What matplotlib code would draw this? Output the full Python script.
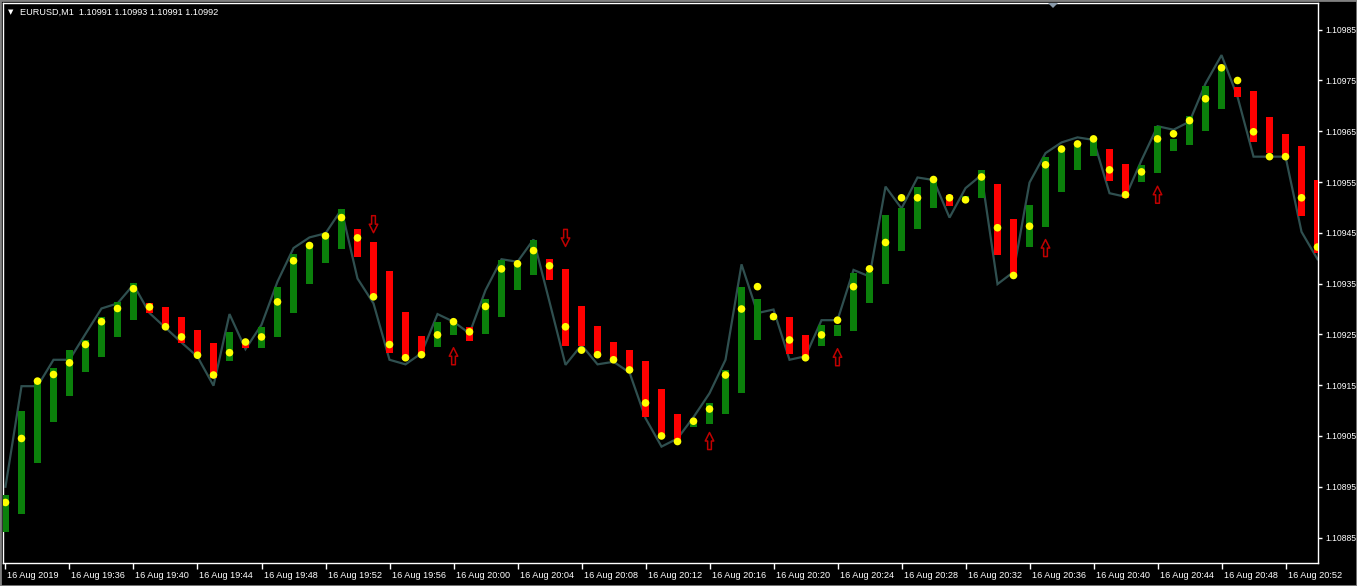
import matplotlib
matplotlib.use('Agg')
import matplotlib.pyplot as plt
import numpy as np
from matplotlib.path import Path
import matplotlib.transforms as mtransforms

plt.rcParams['font.family'] = ['Liberation Sans', 'DejaVu Sans']

# ---------------- data ----------------
symbol_header = "EURUSD,M1  1.10991 1.10993 1.10991 1.10992"

ha_open = [1.108860, 1.108896, 1.108997, 1.109078, 1.109129, 1.109175, 1.109206, 1.109244, 1.109279, 1.109311,
           1.109304, 1.109285, 1.109259, 1.109234, 1.109198, 1.109239, 1.109224, 1.109244, 1.109293, 1.109349,
           1.109390, 1.109419, 1.109458, 1.109431, 1.109375, 1.109294, 1.109247, 1.109226, 1.109249, 1.109265,
           1.109251, 1.109285, 1.109337, 1.109366, 1.109398, 1.109379, 1.109305, 1.109267, 1.109235, 1.109219,
           1.109198, 1.109142, 1.109093, 1.109068, 1.109074, 1.109093, 1.109134, 1.109239, 1.109279, 1.109284,
           1.109249, 1.109228, 1.109247, 1.109257, 1.109312, 1.109349, 1.109415, 1.109457, 1.109498, 1.109525,
           1.109511, 1.109518, 1.109546, 1.109477, 1.109423, 1.109462, 1.109531, 1.109574, 1.109602, 1.109615,
           1.109586, 1.109551, 1.109567, 1.109612, 1.109623, 1.109651, 1.109694, 1.109738, 1.109729, 1.109679,
           1.109645, 1.109621, 1.109554]
ha_close = [1.108934, 1.109099, 1.109158, 1.109183, 1.109219, 1.109238, 1.109284, 1.109313, 1.109351, 1.109293,
            1.109265, 1.109234, 1.109206, 1.109164, 1.109255, 1.109223, 1.109265, 1.109344, 1.109408, 1.109429,
            1.109449, 1.109496, 1.109403, 1.109324, 1.109213, 1.109200, 1.109209, 1.109274, 1.109270, 1.109237,
            1.109320, 1.109397, 1.109393, 1.109436, 1.109357, 1.109228, 1.109228, 1.109206, 1.109200, 1.109175,
            1.109088, 1.109045, 1.109036, 1.109080, 1.109114, 1.109180, 1.109343, 1.109320, 1.109284, 1.109211,
            1.109204, 1.109269, 1.109269, 1.109371, 1.109373, 1.109485, 1.109498, 1.109541, 1.109554, 1.109503,
            1.109522, 1.109574, 1.109407, 1.109366, 1.109505, 1.109599, 1.109615, 1.109626, 1.109639, 1.109552,
            1.109518, 1.109584, 1.109660, 1.109635, 1.109680, 1.109739, 1.109775, 1.109718, 1.109628, 1.109607,
            1.109600, 1.109484, 1.109410]
dot_values = [1.108919, 1.109045, 1.109158, 1.109171, 1.109194, 1.109230, 1.109275, 1.109301, 1.109340, 1.109304,
              1.109265, 1.109245, 1.109209, 1.109170, 1.109214, 1.109235, 1.109245, 1.109314, 1.109395, 1.109425,
              1.109444, 1.109480, 1.109440, 1.109324, 1.109230, 1.109204, 1.109210, 1.109249, 1.109275, 1.109255,
              1.109305, 1.109379, 1.109389, 1.109415, 1.109385, 1.109265, 1.109219, 1.109210, 1.109200, 1.109180,
              1.109115, 1.109050, 1.109039, 1.109079, 1.109103, 1.109170, 1.109300, 1.109344, 1.109285, 1.109239,
              1.109204, 1.109249, 1.109278, 1.109344, 1.109379, 1.109431, 1.109519, 1.109519, 1.109555, 1.109519,
              1.109515, 1.109560, 1.109460, 1.109366, 1.109463, 1.109584, 1.109615, 1.109625, 1.109635, 1.109574,
              1.109525, 1.109570, 1.109635, 1.109645, 1.109671, 1.109714, 1.109775, 1.109750, 1.109649, 1.109600,
              1.109600, 1.109519, 1.109422]
close_line = [1.108950, 1.109148, 1.109148, 1.109200, 1.109200, 1.109251, 1.109301, 1.109311, 1.109348, 1.109292,
              1.109263, 1.109234, 1.109206, 1.109149, 1.109290, 1.109221, 1.109269, 1.109354, 1.109420, 1.109441,
              1.109449, 1.109496, 1.109360, 1.109311, 1.109200, 1.109191, 1.109213, 1.109290, 1.109275, 1.109252,
              1.109337, 1.109398, 1.109393, 1.109437, 1.109314, 1.109190, 1.109229, 1.109191, 1.109196, 1.109175,
              1.109085, 1.109029, 1.109045, 1.109087, 1.109134, 1.109200, 1.109388, 1.109292, 1.109299, 1.109200,
              1.109207, 1.109278, 1.109278, 1.109377, 1.109364, 1.109541, 1.109498, 1.109559, 1.109554, 1.109480,
              1.109538, 1.109564, 1.109349, 1.109373, 1.109549, 1.109607, 1.109628, 1.109638, 1.109633, 1.109528,
              1.109521, 1.109593, 1.109660, 1.109653, 1.109669, 1.109744, 1.109800, 1.109718, 1.109600, 1.109600,
              1.109600, 1.109452, 1.109398]

down_arrow_bars = [23, 35]
down_arrow_prices = [1.109467, 1.109440]
up_arrow_bars = [28, 44, 52, 65, 72]
up_arrow_prices = [1.109207, 1.109040, 1.109205, 1.109420, 1.109525]

time_tick_bars = list(range(0, 81, 4))
time_tick_labels = ["16 Aug 2019", "16 Aug 19:36", "16 Aug 19:40", "16 Aug 19:44", "16 Aug 19:48",
                    "16 Aug 19:52", "16 Aug 19:56", "16 Aug 20:00", "16 Aug 20:04", "16 Aug 20:08",
                    "16 Aug 20:12", "16 Aug 20:16", "16 Aug 20:20", "16 Aug 20:24", "16 Aug 20:28",
                    "16 Aug 20:32", "16 Aug 20:36", "16 Aug 20:40", "16 Aug 20:44", "16 Aug 20:48",
                    "16 Aug 20:52"]
price_ticks = [1.10885, 1.10895, 1.10905, 1.10915, 1.10925, 1.10935, 1.10945, 1.10955, 1.10965, 1.10975, 1.10985]

# ---------------- figure ----------------
W, H = 1357, 586
fig = plt.figure(figsize=(W / 100, H / 100), dpi=100, facecolor='black')
ax = fig.add_axes([3 / W, (H - 563) / H, 1315 / W, 560 / H])
ax.set_facecolor('black')

x = np.arange(len(ha_open))
o = np.array(ha_open)
c = np.array(ha_close)
colors = np.where(c >= o, '#0B800B', '#FF0000')

# main chart line (close)
ax.plot(x, close_line, color='#2F4F4F', lw=1.6, zorder=2, solid_joinstyle='miter')
# Heiken Ashi bodies
ax.bar(x, c - o, bottom=o, width=0.42, color=colors, linewidth=0, zorder=3)
# yellow dots
ax.scatter(x, dot_values, s=30, color='#FFFF00', edgecolors='none', zorder=4)

# arrows (hollow block arrows)
up_verts = [(-0.22, -1.0), (0.22, -1.0), (0.22, 0.0), (0.5, 0.0), (0.0, 1.0),
            (-0.5, 0.0), (-0.22, 0.0), (-0.22, -1.0)]
up_path = Path(up_verts, [Path.MOVETO] + [Path.LINETO] * 6 + [Path.CLOSEPOLY])
down_path = Path([(vx, -vy) for vx, vy in up_verts], [Path.MOVETO] + [Path.LINETO] * 6 + [Path.CLOSEPOLY])
ax.scatter(up_arrow_bars, up_arrow_prices, marker=up_path, s=150, facecolors='none',
           edgecolors='#C00000', linewidths=1.1, zorder=5)
ax.scatter(down_arrow_bars, down_arrow_prices, marker=down_path, s=150, facecolors='none',
           edgecolors='#C00000', linewidths=1.1, zorder=5)

# limits
ax.set_xlim(-0.156, 82.03)
ax.set_ylim(1.1087998, 1.1099026)

# spines
for sp in ax.spines.values():
    sp.set_color('white')
    sp.set_linewidth(1.0)

# y axis on right
ax.yaxis.tick_right()
ax.set_yticks(price_ticks)
ax.set_yticklabels([f"{p:.5f}" for p in price_ticks])
ax.tick_params(axis='y', which='both', direction='out', length=3, width=1, color='white',
               labelcolor='white', labelsize=6.2, pad=2.5, left=False, right=True)

# x axis
ax.set_xticks(time_tick_bars)
ax.set_xticklabels(time_tick_labels)
ax.tick_params(axis='x', direction='out', length=4, width=1, color='white',
               labelcolor='white', labelsize=6.6, pad=2)
offset = mtransforms.ScaledTranslation(2 / 100, 0, fig.dpi_scale_trans)
for lab in ax.get_xticklabels():
    lab.set_horizontalalignment('left')
    lab.set_transform(lab.get_transform() + offset)

# header text
fig.text(8 / W, 1 - 12 / H, "\u25BC", color='white', fontsize=5, va='center', ha='left',
         family=['DejaVu Sans'])
fig.text(20 / W, 1 - 12 / H, symbol_header, color='white', fontsize=6.6, va='center', ha='left')

# chart shift marker at top
fig.patches.append(plt.Polygon([[1048 / W, 1 - 3 / H], [1058 / W, 1 - 3 / H], [1053 / W, 1 - 8 / H]],
                               closed=True, transform=fig.transFigure, facecolor='#8A9AAA',
                               edgecolor='none'))

# window frame
fig.patches.append(plt.Rectangle((0, 0), 1, 1, transform=fig.transFigure, fill=False,
                                 edgecolor='#808080', linewidth=2))

fig.savefig('out.png', dpi=100, facecolor='black')
